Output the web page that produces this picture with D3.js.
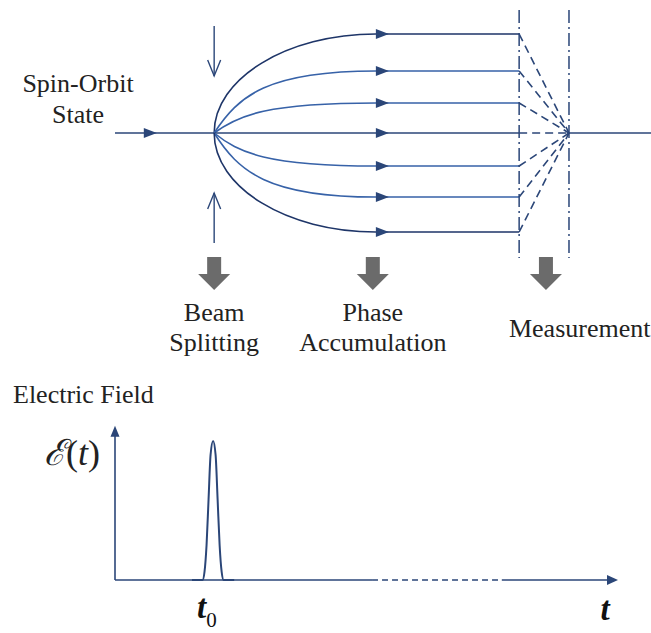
<!DOCTYPE html>
<html>
<head>
<meta charset="utf-8">
<script src="https://cdn.jsdelivr.net/npm/d3@7"></script>
<style>
body { margin: 0; background: #fff; }
svg text { font-family: 'Liberation Serif', 'Times New Roman', Times, 'DejaVu Serif', serif; }
</style>
</head>
<body>
<div id="chart"></div>
<script>
// stages of the interferometer
var stageNames = [['Beam', 'Splitting'], ['Phase', 'Accumulation'], ['Measurement']]
var stagePos = [1.85, 4.81, 8.04]
var labelPos = [1.85, 4.81, 8.67]
// branch offsets relative to the central path
var branchPhase = [3, 1.88, 0.91, 0, -1, -1.94, -3]
// positions along the beam: start, input arrow, split, branch arrows, measurement planes, end
var beamStart = 0, inputArrow = 0.78, splitAt = 1.85, branchArrow = 5.11
var planes = [7.54, 8.47]
var beamEnd = 10
// electric field pulse
var pulseT = [1.53, 1.74, 1.78, 1.82, 1.86, 1.90, 1.95, 2.00, 2.04, 2.08, 2.12, 2.16, 2.37]
var pulseE = [0, 0, 0.06, 0.25, 0.58, 0.9, 1, 0.9, 0.58, 0.25, 0.06, 0, 0]
var t0 = 1.95
var axisBreak = [5.11, 7.69]

var chart_width = 651
var chart_height = 633
var navy = '#2b4678'
var darkNavy = '#1e3568'
var lightBlue = '#3762a8'
var grey = '#6b6b6b'

var svg = d3.select('#chart')
    .append('svg')
    .attr('width', chart_width)
    .attr('height', chart_height)

// scales for the top diagram
var x = d3.scaleLinear().domain([0, 10]).range([115, 651])
var y = d3.scaleLinear().domain([-3, 3]).range([232, 34])

function arrowHead(g, tipX, tipY, dir, len, half, color) {
    // dir: 'right' or 'up'
    var pts
    if (dir === 'right') {
        pts = [[tipX - len, tipY - half], [tipX, tipY], [tipX - len, tipY + half]]
    } else {
        pts = [[tipX - half, tipY + len], [tipX, tipY], [tipX + half, tipY + len]]
    }
    g.append('path')
        .attr('d', 'M' + pts.join('L') + 'Z')
        .attr('fill', color)
}

var diagram = svg.append('g')

// input beam
diagram.append('line')
    .attr('x1', x(beamStart)).attr('x2', x(splitAt))
    .attr('y1', y(0)).attr('y2', y(0))
    .attr('stroke', navy).attr('stroke-width', 1.6)
arrowHead(diagram, x(inputArrow), y(0), 'right', 13, 5, navy)

// branches
var xs = x(splitAt), xa = x(branchArrow) - 13
diagram.selectAll('path.branch')
    .data(branchPhase)
    .enter()
    .append('path')
    .attr('class', 'branch')
    .attr('fill', 'none')
    .attr('stroke-width', 1.6)
    .attr('stroke', function(d){
        if (d === 0) return navy
        return Math.abs(d) >= 3 ? darkNavy : lightBlue
    })
    .attr('d', function(d){
        var yy = y(d), yc = y(0), L = xa - xs
        if (d === 0) return 'M' + xs + ',' + yc + 'L' + x(planes[0]) + ',' + yc
        var outer = Math.abs(d) >= 3
        var a = outer ? 0 : 0.15
        var b = outer ? 0.55 : 0.6
        var c = outer ? 0.45 : 0.33
        var p = d3.path()
        p.moveTo(xs, yc)
        p.bezierCurveTo(xs + a * L, yc + b * (yy - yc), xs + c * L, yy, xa, yy)
        p.lineTo(x(planes[0]), yy)
        return p.toString()
    })

branchPhase.forEach(function(d){
    arrowHead(diagram, x(branchArrow), y(d), 'right', 13, 5, navy)
})

// dashed lines to the detector
diagram.selectAll('line.conv')
    .data(branchPhase)
    .enter()
    .append('line')
    .attr('class', 'conv')
    .attr('x1', x(planes[0]))
    .attr('y1', function(d){ return y(d) })
    .attr('x2', x(planes[1]))
    .attr('y2', y(0))
    .attr('stroke', navy)
    .attr('stroke-width', 1.6)
    .attr('stroke-dasharray', '8,5')

// output beam
diagram.append('line')
    .attr('x1', x(planes[1])).attr('x2', x(beamEnd))
    .attr('y1', y(0)).attr('y2', y(0))
    .attr('stroke', navy).attr('stroke-width', 1.6)

// measurement planes (dash-dot)
diagram.selectAll('line.plane')
    .data(planes)
    .enter()
    .append('line')
    .attr('class', 'plane')
    .attr('x1', function(d){ return x(d) })
    .attr('x2', function(d){ return x(d) })
    .attr('y1', 10).attr('y2', 258)
    .attr('stroke', navy)
    .attr('stroke-width', 1.5)
    .attr('stroke-dasharray', '13,4,2,4')

// splitter arrows (open heads)
var sx = x(splitAt)
var splitArrows = [[3.24, 1.73], [-3.33, -1.82]]
splitArrows.forEach(function(s){
    var y1 = y(s[0]), y2 = y(s[1]), dir = y2 > y1 ? -1 : 1
    diagram.append('line')
        .attr('x1', sx).attr('x2', sx)
        .attr('y1', y1).attr('y2', y2)
        .attr('stroke', navy).attr('stroke-width', 1.4)
    diagram.append('path')
        .attr('d', 'M' + (sx - 6.5) + ',' + (y2 + dir * 16) + 'L' + sx + ',' + y2 + 'L' + (sx + 6.5) + ',' + (y2 + dir * 16))
        .attr('fill', 'none').attr('stroke', navy).attr('stroke-width', 1.4)
})

// grey stage arrows
diagram.selectAll('path.stage')
    .data(stagePos)
    .enter()
    .append('path')
    .attr('class', 'stage')
    .attr('fill', grey)
    .attr('d', function(d){
        var cx = x(d)
        return 'M' + (cx - 7) + ',257L' + (cx + 7) + ',257L' + (cx + 7) + ',274L' + (cx + 16) + ',274L' +
            cx + ',290L' + (cx - 16) + ',274L' + (cx - 7) + ',274Z'
    })

// stage labels
stageNames.forEach(function(lines, i){
    var t = svg.append('text')
        .attr('text-anchor', 'middle')
        .attr('font-size', 26)
        .attr('fill', '#222')
    lines.forEach(function(s, j){
        t.append('tspan')
            .attr('x', x(labelPos[i]))
            .attr('y', lines.length === 1 ? 337 : 321 + j * 30)
            .text(s)
    })
})

var inLabel = svg.append('text').attr('text-anchor', 'middle').attr('font-size', 26).attr('fill', '#222')
inLabel.append('tspan').attr('x', 78).attr('y', 92).text('Spin-Orbit')
inLabel.append('tspan').attr('x', 78).attr('y', 123).text('State')

// electric field plot
svg.append('text')
    .attr('x', 13).attr('y', 403)
    .attr('font-size', 26)
    .attr('fill', '#222')
    .text('Electric Field')

var xb = d3.scaleLinear().domain([0, 10]).range([115, 618])
var yb = d3.scaleLinear().domain([0, 1]).range([580, 441])
var plot = svg.append('g')

// y axis
plot.append('line')
    .attr('x1', xb(0)).attr('x2', xb(0))
    .attr('y1', yb(0)).attr('y2', yb(1.08))
    .attr('stroke', navy).attr('stroke-width', 1.6)
arrowHead(plot, xb(0), yb(1.11), 'up', 11, 4.5, navy)

// x axis with break
var axisSegs = [[0, axisBreak[0], null], [axisBreak[0], axisBreak[1], '6,4'], [axisBreak[1], 9.8, null]]
plot.selectAll('line.xaxis')
    .data(axisSegs)
    .enter()
    .append('line')
    .attr('class', 'xaxis')
    .attr('x1', function(d){ return xb(d[0]) })
    .attr('x2', function(d){ return xb(d[1]) })
    .attr('y1', yb(0)).attr('y2', yb(0))
    .attr('stroke', navy).attr('stroke-width', 1.6)
    .attr('stroke-dasharray', function(d){ return d[2] })
arrowHead(plot, xb(10), yb(0), 'right', 11, 5, navy)

// pulse
var pulse = pulseT.map(function(t, i){ return [t, pulseE[i]] })
plot.append('path')
    .datum(pulse)
    .attr('fill', 'none')
    .attr('stroke', navy)
    .attr('stroke-width', 2)
    .attr('d', d3.line()
        .x(function(d){ return xb(d[0]) })
        .y(function(d){ return yb(d[1]) })
        .curve(d3.curveMonotoneX))

// axis labels
var el = svg.append('text').attr('x', 44).attr('y', 465).attr('font-size', 36).attr('fill', '#222')
el.append('tspan').style('font-family', "'DejaVu Serif', serif").attr('font-style', 'italic').text('\u2130')
el.append('tspan').text('(')
el.append('tspan').attr('font-style', 'italic').text('t')
el.append('tspan').text(')')

var tl = svg.append('text').attr('x', xb(t0) - 16).attr('y', 618).attr('font-size', 33).attr('fill', '#111')
tl.append('tspan').attr('font-style', 'italic').attr('font-weight', 'bold').text('t')
tl.append('tspan').attr('font-size', 21).attr('dy', 9).text('0')

svg.append('text')
    .attr('x', 605).attr('y', 620)
    .attr('text-anchor', 'middle')
    .attr('font-size', 33)
    .attr('font-style', 'italic')
    .attr('font-weight', 'bold')
    .attr('fill', '#111')
    .text('t')
</script>
</body>
</html>
